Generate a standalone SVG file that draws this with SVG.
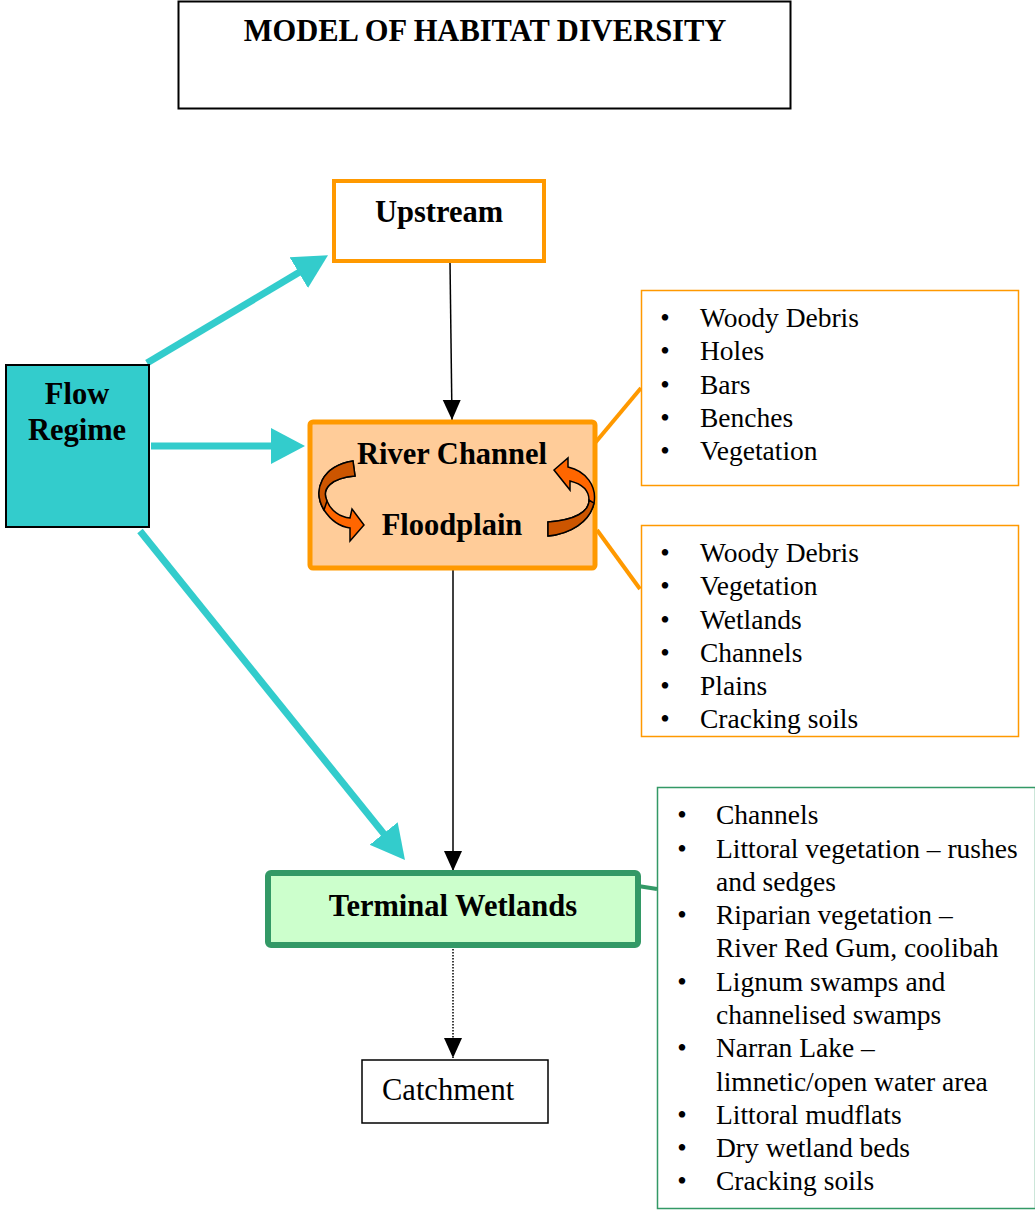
<svg xmlns="http://www.w3.org/2000/svg" width="1035" height="1211" viewBox="0 0 1035 1211">
<style>
.b{font-family:"Liberation Serif","Times New Roman",serif;font-weight:bold;font-size:30.5px;fill:#000;text-anchor:middle}
.r{font-family:"Liberation Serif","Times New Roman",serif;font-size:27.5px;fill:#000}
.bul{font-family:"Liberation Serif","Times New Roman",serif;font-size:27px;fill:#000;text-anchor:middle}
.teal{stroke:#33CCCC;stroke-width:7;fill:none}
.blk{stroke:#000;stroke-width:1.5;fill:none}
</style>
<defs>
<marker id="tealHead" markerUnits="userSpaceOnUse" markerWidth="40" markerHeight="40" viewBox="0 0 40 40" refX="2" refY="20" orient="auto">
<path d="M0,2 L34,20 L0,38 Z" fill="#33CCCC"/>
</marker>
<marker id="blkHead" markerUnits="userSpaceOnUse" markerWidth="24" markerHeight="24" viewBox="0 0 24 24" refX="20" refY="12" orient="auto">
<path d="M0,3 L20,12 L0,21 Z" fill="#000"/>
</marker>
</defs>

<g id="title">
<rect x="178.5" y="1.5" width="612" height="107" fill="#fff" stroke="#000" stroke-width="2"/>
<text class="b" x="485" y="41">MODEL OF HABITAT DIVERSITY</text>
</g>

<g id="connectors">
<line class="teal" x1="147" y1="363" x2="300.5" y2="271.6" marker-end="url(#tealHead)"/>
<line class="teal" x1="151" y1="446" x2="273" y2="446" marker-end="url(#tealHead)"/>
<line class="teal" x1="140" y1="531" x2="384.9" y2="835.1" marker-end="url(#tealHead)"/>
<line class="blk" x1="450" y1="262" x2="452" y2="420" marker-end="url(#blkHead)"/>
<line class="blk" x1="453" y1="568" x2="453" y2="871" marker-end="url(#blkHead)"/>
<line class="blk" x1="453" y1="946" x2="453" y2="1058" stroke-dasharray="1.5,1.5" marker-end="url(#blkHead)"/>
<line x1="595" y1="443" x2="641" y2="388" stroke="#FF9900" stroke-width="4"/>
<line x1="597" y1="530" x2="640" y2="589" stroke="#FF9900" stroke-width="4"/>
<line x1="638" y1="886" x2="657" y2="889" stroke="#339966" stroke-width="4"/>
</g>

<g id="upstream">
<rect x="334" y="181" width="210" height="80" fill="#fff" stroke="#FF9900" stroke-width="4"/>
<text class="b" x="439" y="222">Upstream</text>
</g>

<g id="flow-regime">
<rect x="6" y="365" width="143" height="162" fill="#33CCCC" stroke="#000" stroke-width="2"/>
<text class="b" x="77" y="404">Flow</text>
<text class="b" x="77" y="440">Regime</text>
</g>

<g id="river-channel">
<rect x="310" y="422" width="285" height="146" rx="3" fill="#FFCC99" stroke="#FF9900" stroke-width="5"/>
<text class="b" x="452" y="464">River Channel</text>
<text class="b" x="452" y="535">Floodplain</text>
<path d="M353,461 C322,466 312,490 324,510 C332,522 342,527 350,528 L350,541 L364,525 L352,509 L350,518 C340,517 331,511 327,501 C321,488 332,478 355,476 Z" fill="#FF6600" stroke="#000" stroke-width="1.5"/>
<path d="M353,461 C322,466 312,490 324,510 L327,501 C321,488 332,478 355,476 Z" fill="#CC5500" stroke="#000" stroke-width="1.5"/>
<path d="M548,522 C575,520 589,512 589,500 C589,490 582,484 570,481 L570,490 L554,470 L568,458 L568,467 C586,471 597,486 594,503 C590,522 570,534 548,536 Z" fill="#FF6600" stroke="#000" stroke-width="1.5"/>
<path d="M548,522 C575,520 589,512 589,500 L594,503 C590,522 570,534 548,536 Z" fill="#CC5500" stroke="#000" stroke-width="1.5"/>
</g>

<g id="channel-list">
<rect x="641.5" y="290.5" width="377" height="195" fill="#fff" stroke="#FF9900" stroke-width="1.5"/>
<text class="bul" x="665" y="327">•</text><text class="r" x="700" y="327">Woody Debris</text>
<text class="bul" x="665" y="360">•</text><text class="r" x="700" y="360">Holes</text>
<text class="bul" x="665" y="394">•</text><text class="r" x="700" y="394">Bars</text>
<text class="bul" x="665" y="427">•</text><text class="r" x="700" y="427">Benches</text>
<text class="bul" x="665" y="460">•</text><text class="r" x="700" y="460">Vegetation</text>
</g>

<g id="floodplain-list">
<rect x="641.5" y="525.5" width="377" height="211" fill="#fff" stroke="#FF9900" stroke-width="1.5"/>
<text class="bul" x="665" y="562">•</text><text class="r" x="700" y="562">Woody Debris</text>
<text class="bul" x="665" y="595">•</text><text class="r" x="700" y="595">Vegetation</text>
<text class="bul" x="665" y="629">•</text><text class="r" x="700" y="629">Wetlands</text>
<text class="bul" x="665" y="662">•</text><text class="r" x="700" y="662">Channels</text>
<text class="bul" x="665" y="695">•</text><text class="r" x="700" y="695">Plains</text>
<text class="bul" x="665" y="728">•</text><text class="r" x="700" y="728">Cracking soils</text>
</g>

<g id="terminal-wetlands">
<rect x="268" y="873" width="370" height="72" rx="3" fill="#CCFFCC" stroke="#339966" stroke-width="6"/>
<text class="b" x="453" y="916">Terminal Wetlands</text>
</g>

<g id="wetlands-list">
<rect x="657.5" y="787.5" width="378" height="421" fill="#fff" stroke="#339966" stroke-width="1.5"/>
<text class="bul" x="682" y="824">•</text><text class="r" x="716" y="824">Channels</text>
<text class="bul" x="682" y="858">•</text><text class="r" x="716" y="858">Littoral vegetation – rushes</text>
<text class="r" x="716" y="891">and sedges</text>
<text class="bul" x="682" y="924">•</text><text class="r" x="716" y="924">Riparian vegetation –</text>
<text class="r" x="716" y="957">River Red Gum, coolibah</text>
<text class="bul" x="682" y="991">•</text><text class="r" x="716" y="991">Lignum swamps and</text>
<text class="r" x="716" y="1024">channelised swamps</text>
<text class="bul" x="682" y="1057">•</text><text class="r" x="716" y="1057">Narran Lake –</text>
<text class="r" x="716" y="1091">limnetic/open water area</text>
<text class="bul" x="682" y="1124">•</text><text class="r" x="716" y="1124">Littoral mudflats</text>
<text class="bul" x="682" y="1157">•</text><text class="r" x="716" y="1157">Dry wetland beds</text>
<text class="bul" x="682" y="1190">•</text><text class="r" x="716" y="1190">Cracking soils</text>
</g>

<g id="catchment">
<rect x="362" y="1060" width="186" height="63" fill="#fff" stroke="#000" stroke-width="1.5"/>
<text class="r" x="382" y="1100" style="font-size:30.5px">Catchment</text>
</g>
</svg>
